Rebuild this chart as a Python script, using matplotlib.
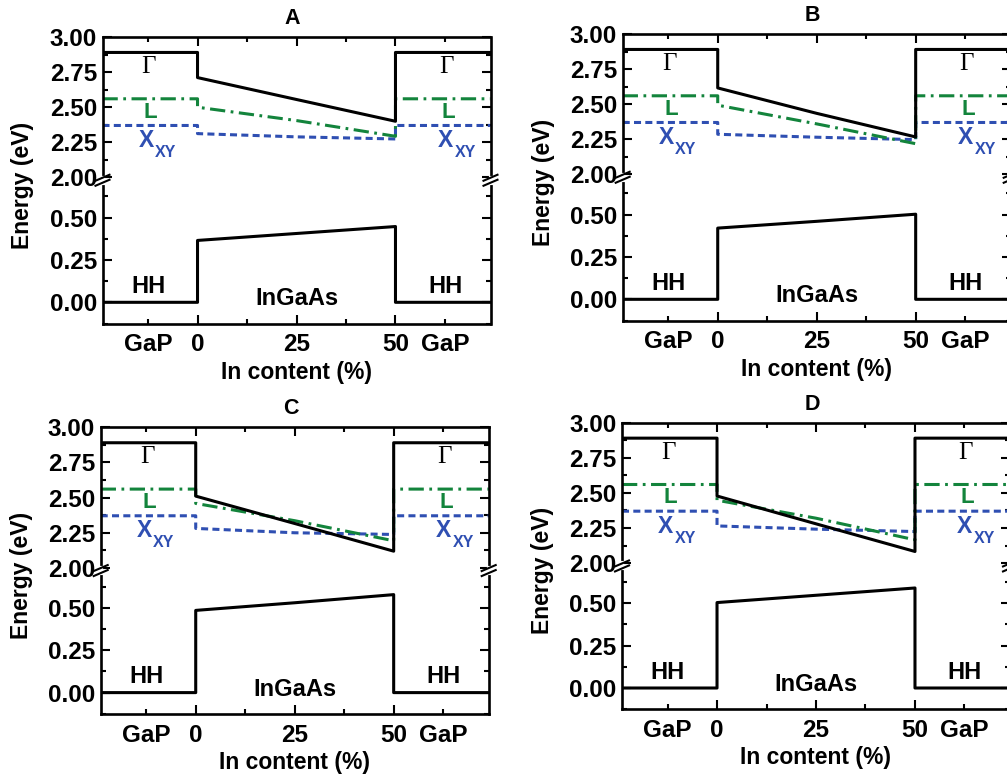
import matplotlib.pyplot as plt
from matplotlib.lines import Line2D
from matplotlib.ticker import MultipleLocator, FormatStrFormatter

plt.rcParams.update({
    "font.family": ["Liberation Sans", "DejaVu Sans"],
    "font.weight": "bold",
    "font.size": 16,
})

W, H = 1007, 774

panels = ["A", "B", "C", "D"]

# GaP barrier levels (eV)
gap_gamma = 2.89
gap_L = 2.56
gap_X = 2.37
gap_HH = 0.0

# structure positions along the x axis
x_gap_left = -24
x_gap_right = 74
x_ingaas = [0, 25, 50]

# InGaAs levels at 0, 25, 50 % In
gamma_vals = {
    "A": [2.711, 2.555, 2.40],
    "B": [2.616, 2.435, 2.267],
    "C": [2.51, 2.315, 2.118],
    "D": [2.478, 2.28, 2.083],
}
L_vals = {
    "A": [2.50, 2.405, 2.293],
    "B": [2.493, 2.36, 2.219],
    "C": [2.458, 2.335, 2.192],
    "D": [2.448, 2.32, 2.166],
}
X_vals = {
    "A": [2.312, 2.289, 2.274],
    "B": [2.286, 2.265, 2.248],
    "C": [2.28, 2.249, 2.237],
    "D": [2.265, 2.242, 2.225],
}
HH_vals = {
    "A": [0.365, 0.406, 0.447],
    "B": [0.42, 0.46, 0.502],
    "C": [0.485, 0.53, 0.578],
    "D": [0.504, 0.547, 0.59],
}

xtick_major = [0, 25, 50]
xtick_minor = [-12.5, 12.5, 37.5, 62.5]
xtick_minor_labels = ["GaP", "", "", "GaP"]

GREEN = "#13843c"
BLUE = "#2f4fb2"
LW = 2.2

# panel boxes in pixels: left, top, width (total height 286.5)
boxes = {
    "A": (102.5, 37.0, 388),
    "B": (622.7, 34.0, 388),
    "C": (100.7, 427.3, 388),
    "D": (622.0, 422.7, 388),
}
HALF = 143.25

fig = plt.figure(figsize=(W / 100, H / 100), dpi=100)


def px_axes(left, top, width, height):
    return fig.add_axes([left / W, 1 - (top + height) / H, width / W, height / H])


def band(x_vals, gap, inner):
    xs = [x_gap_left, x_ingaas[0]] + list(x_vals) + [x_ingaas[-1], x_gap_right]
    ys = [gap, gap] + list(inner) + [gap, gap]
    return xs, ys


def style(ax):
    for s in ax.spines.values():
        s.set_linewidth(1.9)
    ax.tick_params(which="both", direction="in", right=True, width=1.5, labelsize=17.5, pad=4)
    ax.tick_params(which="major", length=6.5)
    ax.tick_params(which="minor", length=3.5)
    ax.set_xlim(x_gap_left, x_gap_right)
    ax.set_xticks(xtick_major)
    ax.set_xticks(xtick_minor, minor=True)


def label_regions(ax_up, ax_lo):
    for x in (-12.3, 62.8):
        ax_up.text(x, 2.787, "\u0393", family="Liberation Serif", weight="normal",
                   fontsize=18, ha="center", va="center")
    for x in (-11.8, 63.3):
        ax_up.text(x, 2.465, "L", color=GREEN, fontsize=16, ha="center", va="center")
    for x in (-13.0, 62.6):
        ax_up.text(x, 2.262, "X", color=BLUE, fontsize=16.5, ha="center", va="center")
        ax_up.annotate("XY", (x, 2.262), xytext=(6.5, -8.5), textcoords="offset points",
                       color=BLUE, fontsize=11.5, ha="left", va="center")
    for x in (-12.4, 62.6):
        ax_lo.text(x, 0.094, "HH", fontsize=17, ha="center", va="center")
    ax_lo.text(25, 0.02, "InGaAs", fontsize=17, ha="center", va="center")


def break_marks(left, width, y_break):
    for xs in (left, left + width):
        fig.add_artist(Line2D([xs / W, xs / W], [1 - (y_break - 2.5) / H, 1 - (y_break + 2.5) / H],
                              color="white", lw=3))
        for dy in (-2.5, 2.5):
            fig.add_artist(Line2D([(xs - 7) / W, (xs + 7) / W],
                                  [1 - (y_break + dy + 3) / H, 1 - (y_break + dy - 3) / H],
                                  color="black", lw=1.5))


for p in panels:
    left, top, width = boxes[p]
    ax_up = px_axes(left, top, width, HALF)
    ax_lo = px_axes(left, top + HALF, width, HALF)

    for ax in (ax_up, ax_lo):
        style(ax)

    # upper (conduction band) part
    ax_up.set_ylim(1.98, 3.0)
    ax_up.yaxis.set_major_locator(MultipleLocator(0.25))
    ax_up.yaxis.set_minor_locator(MultipleLocator(0.125))
    ax_up.yaxis.set_major_formatter(FormatStrFormatter("%.2f"))
    ax_up.spines["bottom"].set_visible(False)
    ax_up.tick_params(which="both", top=True, bottom=False, labelbottom=False)

    xs, ys = band(x_ingaas, gap_X, X_vals[p])
    ax_up.plot(xs, ys, color=BLUE, lw=LW, ls=(0, (2.3, 1.4)))
    xs, ys = band(x_ingaas, gap_L, L_vals[p])
    ax_up.plot(xs, ys, color=GREEN, lw=LW, ls=(0, (5.0, 1.8, 0.9, 1.8)))
    xs, ys = band(x_ingaas, gap_gamma, gamma_vals[p])
    ax_up.plot(xs, ys, color="black", lw=LW)

    # lower (valence band) part
    ax_lo.set_ylim(-0.125, 0.72)
    ax_lo.yaxis.set_major_locator(MultipleLocator(0.25))
    ax_lo.yaxis.set_minor_locator(MultipleLocator(0.125))
    ax_lo.yaxis.set_major_formatter(FormatStrFormatter("%.2f"))
    ax_lo.spines["top"].set_visible(False)
    ax_lo.tick_params(which="both", top=False, pad=7, axis="x")
    ax_lo.set_xticklabels([str(v) for v in xtick_major])
    ax_lo.set_xticklabels(xtick_minor_labels, minor=True)

    xs, ys = band(x_ingaas, gap_HH, HH_vals[p])
    ax_lo.plot(xs, ys, color="black", lw=LW)

    label_regions(ax_up, ax_lo)
    break_marks(left, width, top + HALF)

    fig.text((left + width / 2 - 4) / W, 1 - (top - 18.5) / H, p, fontsize=15.5,
             ha="center", va="center")
    fig.text((left + width / 2) / W, 1 - (top + 286.5 + 48.7) / H, "In content (%)",
             fontsize=16.5, ha="center", va="center")
    fig.text((left - 79.5) / W, 1 - (top + 148) / H, "Energy (eV)", fontsize=16.5,
             rotation=90, ha="center", va="center")

fig.savefig("out.png", dpi=100)
